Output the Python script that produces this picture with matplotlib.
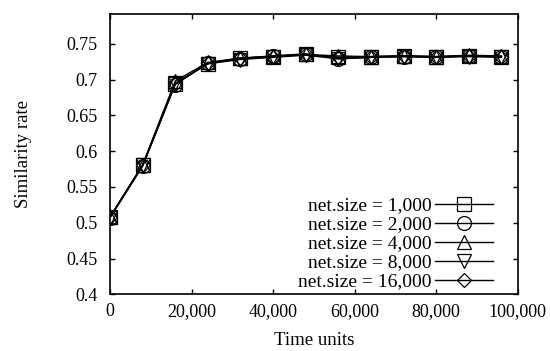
import matplotlib
matplotlib.use("Agg")
import matplotlib.pyplot as plt
from matplotlib.ticker import FuncFormatter

plt.rcParams['font.family'] = ['Liberation Serif', 'DejaVu Serif']

time_units = [0, 8000, 16000, 24000, 32000, 40000, 48000, 56000, 64000, 72000, 80000, 88000, 96000]
labels = ["net.size = 1,000", "net.size = 2,000", "net.size = 4,000", "net.size = 8,000", "net.size = 16,000"]
size_1000 = [0.508, 0.580, 0.694, 0.722, 0.730, 0.732, 0.735, 0.731, 0.732, 0.733, 0.732, 0.733, 0.732]
size_2000 = [0.507, 0.579, 0.693, 0.723, 0.729, 0.733, 0.736, 0.729, 0.731, 0.732, 0.731, 0.733, 0.732]
size_4000 = [0.508, 0.581, 0.698, 0.724, 0.730, 0.733, 0.735, 0.733, 0.732, 0.733, 0.732, 0.734, 0.733]
size_8000 = [0.507, 0.580, 0.695, 0.722, 0.728, 0.731, 0.734, 0.729, 0.731, 0.732, 0.731, 0.732, 0.731]
size_16000 = [0.508, 0.580, 0.694, 0.723, 0.730, 0.732, 0.735, 0.731, 0.732, 0.733, 0.732, 0.733, 0.732]
series = [size_1000, size_2000, size_4000, size_8000, size_16000]
markers = ['s', 'o', '^', 'v', 'D']
msizes = [9.5, 10, 9.5, 9.5, 7.5]
x_ticks = [0, 20000, 40000, 60000, 80000, 100000]
y_ticks = [0.4, 0.45, 0.5, 0.55, 0.6, 0.65, 0.7, 0.75]

fig = plt.figure(figsize=(5.5, 3.51), dpi=100)
ax = fig.add_axes([0.2, 0.1615, 0.7413, 0.7995])

for vals, m, ms, lab in zip(series, markers, msizes, labels):
    ax.plot(time_units, vals, color='black', lw=1.0, marker=m, ms=ms,
            mfc='none', mec='black', mew=0.9, label=lab)

ax.set_xlim(0, 100000)
ax.set_ylim(0.4, 0.792)
ax.set_xticks(x_ticks)
ax.set_yticks(y_ticks)
ax.xaxis.set_major_formatter(FuncFormatter(lambda v, p: f"{int(v):,}"))
ax.yaxis.set_major_formatter(FuncFormatter(lambda v, p: f"{v:g}"))
ax.tick_params(direction='in', length=3.5, width=1.0, top=True, right=True, labelsize=13)
ax.tick_params(axis='x', pad=6)
ax.tick_params(axis='y', pad=9)
for s in ax.spines.values():
    s.set_linewidth(1.2)

ax.set_xlabel("Time units", fontsize=13.5, labelpad=9)
ax.set_ylabel("Similarity rate", fontsize=13.5, labelpad=25)

leg = ax.legend(loc='lower right', markerfirst=False, frameon=False, fontsize=14,
                handlelength=3.0, handletextpad=0.15, labelspacing=0.07,
                borderpad=0.2, borderaxespad=0.0, bbox_to_anchor=(0.949, 0.0))

fig.savefig("out.png", dpi=100)
